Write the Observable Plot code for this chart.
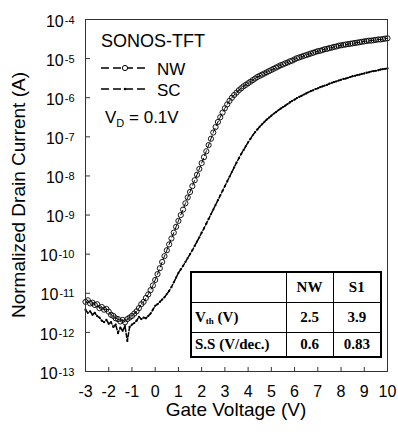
<!DOCTYPE html>
<html><head><meta charset="utf-8">
<script src="https://cdn.jsdelivr.net/npm/d3@7"></script>
<script src="https://cdn.jsdelivr.net/npm/@observablehq/plot@0.6"></script>
<style>
body{margin:0;background:#fff;}
#wrap{position:relative;width:398px;height:432px;font-family:"Liberation Sans",Arial,sans-serif;}
#wrap svg{display:block;}
table.inset{position:absolute;left:190px;top:271px;border-collapse:collapse;border:2px solid #000;font-family:"Liberation Serif","Times New Roman",serif;font-weight:bold;font-size:15px;background:#fff;color:#000;}
table.inset td{border:1px solid #000;padding:0;text-align:center;}
table.inset td.lab{text-align:left;padding-left:3px;}
table.inset sub{font-size:9px;vertical-align:-2px;}
</style></head>
<body><div id="wrap"></div>
<script>
// Gate voltage sweep: -3 V to 10 V in 0.1 V steps
const gateStart = -3, gateStep = 0.1;
// log10 of normalized drain current (A)
const nwLogCurrent = [
 -11.22,-11.18,-11.26,-11.24,-11.30,-11.28,-11.38,-11.35,-11.42,-11.40,
 -11.47,-11.55,-11.58,-11.64,-11.66,-11.72,-11.68,-11.74,-11.66,-11.62,
 -11.58,-11.52,-11.46,-11.38,-11.28,-11.22,-11.12,-11.03,-10.92,-10.80,
 -10.66,-10.51,-10.36,-10.20,-10.05,-9.90,-9.75,-9.60,-9.45,-9.30,
 -9.15,-9.00,-8.86,-8.70,-8.55,-8.41,-8.26,-8.11,-7.97,-7.82,
 -7.67,-7.52,-7.37,-7.21,-7.05,-6.89,-6.75,-6.62,-6.50,-6.38,
 -6.27,-6.17,-6.08,-6.00,-5.93,-5.87,-5.81,-5.76,-5.71,-5.67,
 -5.63,-5.59,-5.55,-5.51,-5.47,-5.44,-5.41,-5.38,-5.35,-5.32,
 -5.29,-5.26,-5.23,-5.20,-5.17,-5.15,-5.12,-5.10,-5.07,-5.05,
 -5.02,-4.99,-4.97,-4.95,-4.93,-4.91,-4.89,-4.87,-4.85,-4.83,
 -4.81,-4.80,-4.78,-4.76,-4.75,-4.73,-4.72,-4.70,-4.69,-4.67,
 -4.66,-4.65,-4.64,-4.63,-4.62,-4.61,-4.60,-4.59,-4.58,-4.57,
 -4.56,-4.55,-4.54,-4.54,-4.53,-4.52,-4.51,-4.51,-4.50,-4.49,
 -4.48
];
const scLogCurrent = [
 -11.42,-11.50,-11.46,-11.55,-11.50,-11.58,-11.62,-11.70,-11.74,-11.68,
 -11.78,-11.74,-11.86,-11.80,-12.02,-11.88,-11.96,-11.84,-12.22,-11.86,
 -11.80,-11.76,-11.70,-11.60,-11.66,-11.62,-11.64,-11.58,-11.52,-11.42,
 -11.32,-11.28,-11.22,-11.16,-11.10,-11.02,-10.94,-10.84,-10.72,-10.60,
 -10.48,-10.39,-10.30,-10.20,-10.10,-10.00,-9.90,-9.79,-9.68,-9.57,
 -9.45,-9.34,-9.22,-9.10,-8.98,-8.86,-8.74,-8.62,-8.50,-8.38,
 -8.26,-8.14,-8.02,-7.90,-7.78,-7.66,-7.55,-7.44,-7.34,-7.24,
 -7.14,-7.05,-6.96,-6.88,-6.81,-6.74,-6.68,-6.62,-6.56,-6.51,
 -6.46,-6.41,-6.37,-6.32,-6.28,-6.24,-6.20,-6.16,-6.12,-6.08,
 -6.05,-6.01,-5.98,-5.95,-5.92,-5.89,-5.86,-5.83,-5.81,-5.78,
 -5.76,-5.73,-5.71,-5.69,-5.67,-5.64,-5.62,-5.60,-5.58,-5.56,
 -5.54,-5.52,-5.51,-5.49,-5.47,-5.45,-5.44,-5.42,-5.41,-5.39,
 -5.38,-5.36,-5.35,-5.33,-5.32,-5.31,-5.30,-5.28,-5.27,-5.26,
 -5.25
];
const xTicks = [-3,-2,-1,0,1,2,3,4,5,6,7,8,9,10];
const yTickExponents = [-13,-12,-11,-10,-9,-8,-7,-6,-5,-4];
const seriesNames = ["NW","SC"];
const tableHeader = ["", "NW", "S1"];
const tableRowLabels = ["V<sub>th</sub> (V)", "S.S (V/dec.)"];
const tableNW = ["2.5", "0.6"];
const tableS1 = ["3.9", "0.83"];

const toRows = arr => arr.map((e, i) => ({v: +(gateStart + i * gateStep).toFixed(1), i: Math.pow(10, e)}));
const nw = toRows(nwLogCurrent);
const sc = toRows(scLogCurrent);
const yTicks = yTickExponents.map(e => Number("1e" + e));

const plot = Plot.plot({
  width: 398, height: 432,
  marginLeft: 85, marginRight: 11, marginTop: 19, marginBottom: 61,
  style: {fontFamily: '"Liberation Sans", Arial, sans-serif', background: "#fff", color: "#000", overflow: "visible"},
  x: {domain: [-3, 10]},
  y: {type: "log", domain: [1e-13, 1e-4]},
  marks: [
    Plot.axisX({ticks: xTicks, tickSize: 0, tickPadding: 14, fontSize: 16, tickFormat: d => String(d), label: null}),
    Plot.axisX({ticks: xTicks, tickSize: 4, dy: -4, text: null, label: null, stroke: "#333"}),
    Plot.axisY({ticks: yTicks, tickSize: 0, tickPadding: 11, fontSize: 16, dy: 2, tickFormat: d => "10^" + Math.round(Math.log10(d)), label: null}),
    Plot.axisY({ticks: yTicks, tickSize: 5, dx: 5, text: null, label: null, stroke: "#333"}),
    Plot.line(nw, {x: "v", y: "i", stroke: "#000", strokeWidth: 1, strokeDasharray: "5,3"}),
    Plot.dot(nw, {x: "v", y: "i", r: 2.6, stroke: "#000", fill: "none", strokeWidth: 0.9}),
    Plot.line(sc, {x: "v", y: "i", stroke: "#000", strokeWidth: 1.5, strokeDasharray: "4,2"}),
    Plot.dot(sc, {x: "v", y: "i", r: 1.1, fill: "#000"}),
    Plot.frame({stroke: "#333", strokeWidth: 1})
  ]
});

const wrap = document.getElementById("wrap");
wrap.appendChild(plot);
const svg = d3.select(plot);

// superscript exponents on y tick labels
svg.selectAll('g[aria-label="y-axis tick label"] text').each(function() {
  const t = d3.select(this);
  const parts = t.text().split("^");
  if (parts.length !== 2) return;
  t.text("");
  t.append("tspan").text(parts[0]);
  t.append("tspan").attr("font-size", 11).attr("dy", -3).attr("dx", 1).text(parts[1]);
});

// axis titles
svg.append("text").attr("x", 236).attr("y", 416).attr("text-anchor", "middle")
  .attr("font-size", 19).attr("fill", "#000").text("Gate Voltage (V)");
svg.append("text").attr("transform", "translate(25,195) rotate(-90)").attr("text-anchor", "middle")
  .attr("font-size", 19).attr("fill", "#000").text("Normalized Drain Current (A)");

// legend
const lg = svg.append("g").attr("fill", "#000").attr("text-anchor", "start");
lg.append("text").attr("x", 101).attr("y", 47).attr("font-size", 18).text("SONOS-TFT");
[[68, 75], [89, 96]].forEach(([ly, ty], k) => {
  lg.append("line").attr("x1", 101).attr("x2", 148).attr("y1", ly).attr("y2", ly)
    .attr("stroke", "#000").attr("stroke-width", 1.6).attr("stroke-dasharray", "8,4");
  if (k === 0) lg.append("circle").attr("cx", 125).attr("cy", ly).attr("r", 2.6).attr("fill", "#fff").attr("stroke", "#000");
  else lg.append("circle").attr("cx", 125).attr("cy", ly).attr("r", 1.3).attr("fill", "#000");
  lg.append("text").attr("x", 157).attr("y", ty).attr("font-size", 17).text(seriesNames[k]);
});
const vd = lg.append("text").attr("x", 105).attr("y", 123).attr("font-size", 17);
vd.append("tspan").text("V");
vd.append("tspan").attr("font-size", 11).attr("dy", 4).text("D");
vd.append("tspan").attr("dy", -4).text(" = 0.1V");

// inset table
const tbl = document.createElement("table");
tbl.className = "inset";
let html = '<colgroup><col style="width:95px"><col style="width:47px"><col style="width:48px"></colgroup>';
html += '<tr style="height:30px">' + tableHeader.map(h => `<td>${h}</td>`).join("") + '</tr>';
tableRowLabels.forEach((lab, r) => {
  html += `<tr style="height:${r === 0 ? 30 : 25}px"><td class="lab">${lab}</td><td>${tableNW[r]}</td><td>${tableS1[r]}</td></tr>`;
});
tbl.innerHTML = html;
wrap.appendChild(tbl);
</script>
</body></html>
